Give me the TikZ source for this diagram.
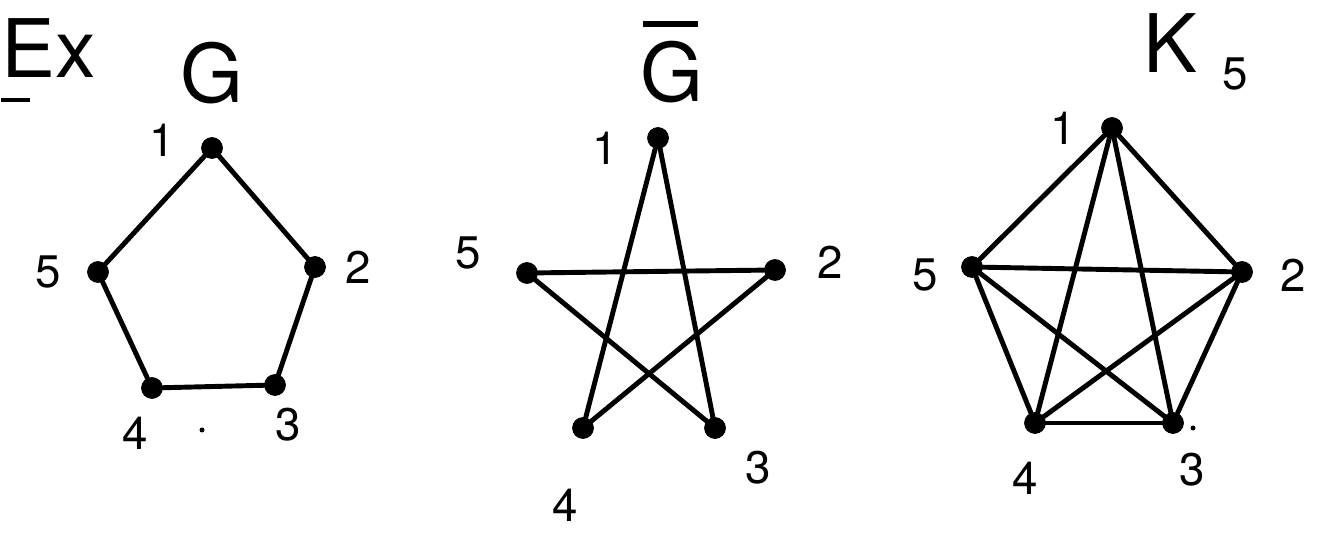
\documentclass[tikz,border=0pt]{standalone}
\usepackage{fontspec}
\setsansfont{TeX Gyre Heros}
\begin{document}
\begin{tikzpicture}[x=0.02cm,y=-0.02cm,
  vtx/.style={circle,fill=black,draw=black,inner sep=0pt,minimum size=0.42cm},
  edge/.style={line width=2.8pt,line cap=round},
  lbl/.style={font=\sffamily\fontsize{26}{28}\selectfont,inner sep=0pt},
  ttl/.style={font=\sffamily\fontsize{46}{50}\selectfont,inner sep=0pt}]
\useasboundingbox (0,0) rectangle (1332,540);
% title Ex
\node[ttl,anchor=base west] (ex) at (1,78) {Ex};
\draw[line width=2.8pt] (1,100) -- (30,100);
% ---------- G ----------
\node[ttl] (tG) at (212,73) {G};
\node[vtx] (a1) at (212,148) {};
\node[vtx] (a2) at (315,267) {};
\node[vtx] (a3) at (275,385) {};
\node[vtx] (a4) at (152,388) {};
\node[vtx] (a5) at (98,272) {};
\node[lbl] (la1) at (162,140) {1};
\node[lbl] (la2) at (358,267) {2};
\node[lbl] (la3) at (288,425) {3};
\node[lbl] (la4) at (135,433) {4};
\node[lbl] (la5) at (48,272) {5};
\draw[edge] (a1) -- (a2) -- (a3) -- (a4) -- (a5) -- (a1);
\fill (202,430) circle (2.5);
% ---------- complement ----------
\node[ttl] (tGb) at (672,72) {G};
\draw[line width=3pt] (643,24) -- (698,24);
\node[vtx] (b1) at (658,138) {};
\node[vtx] (b2) at (775,270) {};
\node[vtx] (b3) at (715,428) {};
\node[vtx] (b4) at (583,428) {};
\node[vtx] (b5) at (527,273) {};
\node[lbl] (lb1) at (605,148) {1};
\node[lbl] (lb2) at (830,262) {2};
\node[lbl] (lb3) at (758,468) {3};
\node[lbl] (lb4) at (565,505) {4};
\node[lbl] (lb5) at (468,253) {5};
\draw[edge] (b1) -- (b3);
\draw[edge] (b1) -- (b4);
\draw[edge] (b5) -- (b2);
\draw[edge] (b5) -- (b3);
\draw[edge] (b2) -- (b4);
% ---------- K5 ----------
\node[ttl] (tK) at (1170,43) {K};
\node[lbl] (tK5) at (1235,74) {5};
\node[vtx] (c1) at (1112,128) {};
\node[vtx] (c2) at (1242,272) {};
\node[vtx] (c3) at (1173,423) {};
\node[vtx] (c4) at (1035,423) {};
\node[vtx] (c5) at (972,267) {};
\node[lbl] (lc1) at (1063,128) {1};
\node[lbl] (lc2) at (1293,275) {2};
\node[lbl] (lc3) at (1192,470) {3};
\node[lbl] (lc4) at (1025,478) {4};
\node[lbl] (lc5) at (925,275) {5};
\foreach \u/\v in {c1/c2,c1/c3,c1/c4,c1/c5,c2/c3,c2/c4,c2/c5,c3/c4,c3/c5,c4/c5}
  \draw[edge] (\u) -- (\v);
\fill (1193,428) circle (2.5);
\end{tikzpicture}
\end{document}
